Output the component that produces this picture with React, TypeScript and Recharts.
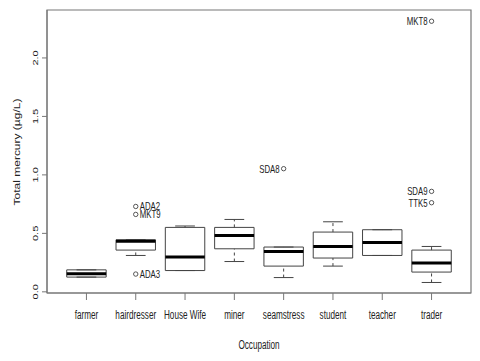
import {
  ComposedChart,
  XAxis,
  YAxis,
  Scatter,
  ReferenceArea,
  ReferenceLine,
} from "recharts";

const categories = [
  "farmer",
  "hairdresser",
  "House Wife",
  "miner",
  "seamstress",
  "student",
  "teacher",
  "trader",
];
const whiskerLow = [0.126, 0.311, 0.182, 0.259, 0.122, 0.22, 0.311, 0.08];
const q1 = [0.126, 0.357, 0.182, 0.368, 0.22, 0.289, 0.311, 0.169];
const median = [0.154, 0.432, 0.297, 0.482, 0.345, 0.388, 0.422, 0.246];
const q3 = [0.188, 0.445, 0.551, 0.551, 0.383, 0.511, 0.531, 0.357];
const whiskerHigh = [0.188, 0.445, 0.563, 0.619, 0.383, 0.599, 0.531, 0.388];

const outlierCat = [2, 2, 2, 5, 8, 8, 8];
const outlierValue = [0.73, 0.662, 0.152, 1.053, 2.314, 0.859, 0.762];
const outlierLabel = ["ADA2", "MKT9", "ADA3", "SDA8", "MKT8", "SDA9", "TTK5"];

const yTicks = [0, 0.5, 1, 1.5, 2];
const xTicks = categories.map((_, i) => i + 1);

const X_DOMAIN: [number, number] = [0.2, 8.8];
const Y_DOMAIN: [number, number] = [-0.01, 2.41];
const SQUASH = 0.68;
const TEXT = "#222";
const FRAME = "#777";
const BOX = "#444";

const outliers = outlierValue.map((v, i) => ({
  x: outlierCat[i],
  y: v,
  label: outlierLabel[i],
  right: outlierCat[i] === 2,
}));

function XTick(props: any) {
  const { x, y, payload } = props;
  return (
    <g transform={`translate(${x},${y}) scale(${SQUASH},1)`}>
      <text x={0} y={17} textAnchor="middle" fontSize={12} fill={TEXT}>
        {categories[payload.value - 1]}
      </text>
    </g>
  );
}

function YTick(props: any) {
  const { y, payload } = props;
  return (
    <g transform={`translate(37.5,${y}) rotate(-90) scale(1,${SQUASH})`}>
      <text x={0} y={0} textAnchor="middle" fontSize={11} fill={TEXT}>
        {Number(payload.value).toFixed(1)}
      </text>
    </g>
  );
}

function OutlierShape(props: any) {
  const { cx, cy, payload } = props;
  const tx = payload.right ? 4 : -4;
  return (
    <g>
      <circle cx={cx} cy={cy} r={2.2} fill="none" stroke={BOX} strokeWidth={0.9} />
      <g transform={`translate(${cx + tx},${cy}) scale(${SQUASH},1)`}>
        <text
          x={0}
          y={4}
          fontSize={11.5}
          fill={TEXT}
          textAnchor={payload.right ? "start" : "end"}
        >
          {payload.label}
        </text>
      </g>
    </g>
  );
}

export default function App() {
  return (
    <div
      style={{
        position: "absolute",
        left: 0,
        top: 0,
        width: 480,
        height: 361,
        background: "#fff",
        fontFamily: "'Liberation Sans', Arial, sans-serif",
      }}
    >
      <ComposedChart
        width={480}
        height={361}
        margin={{ top: 10, right: 9, left: 0, bottom: 0 }}
      >
        <XAxis
          type="number"
          dataKey="x"
          domain={X_DOMAIN}
          ticks={xTicks}
          allowDataOverflow
          height={68}
          tickSize={7}
          tickLine={{ stroke: FRAME }}
          axisLine={{ stroke: FRAME }}
          tick={<XTick />}
          interval={0}
          label={{
            content: () => (
              <g transform={`translate(259,349) scale(${SQUASH},1)`}>
                <text x={0} y={0} textAnchor="middle" fontSize={12} fill={TEXT}>
                  Occupation
                </text>
              </g>
            ),
          }}
        />
        <YAxis
          type="number"
          dataKey="y"
          domain={Y_DOMAIN}
          ticks={yTicks}
          allowDataOverflow
          width={47}
          tickSize={5}
          tickLine={{ stroke: FRAME }}
          axisLine={{ stroke: FRAME }}
          tick={<YTick />}
          interval={0}
          label={{
            content: () => (
              <g transform={`translate(19.5,152) rotate(-90) scale(1,${SQUASH})`}>
                <text x={0} y={0} textAnchor="middle" fontSize={12} fill={TEXT}>
                  Total mercury (µg/L)
                </text>
              </g>
            ),
          }}
        />

        {/* frame around the plot */}
        <ReferenceArea
          x1={X_DOMAIN[0]}
          x2={X_DOMAIN[1]}
          y1={Y_DOMAIN[0]}
          y2={Y_DOMAIN[1]}
          fill="none"
          fillOpacity={0}
          stroke={FRAME}
          strokeWidth={1.2}
          strokeOpacity={1}
        />

        {categories.map((c, i) => {
          const x = i + 1;
          return [
            <ReferenceLine
              key={c + "wl"}
              segment={[
                { x, y: whiskerLow[i] },
                { x, y: q1[i] },
              ]}
              stroke={BOX}
              strokeDasharray="3 3"
            />,
            <ReferenceLine
              key={c + "wh"}
              segment={[
                { x, y: q3[i] },
                { x, y: whiskerHigh[i] },
              ]}
              stroke={BOX}
              strokeDasharray="3 3"
            />,
            <ReferenceLine
              key={c + "cl"}
              segment={[
                { x: x - 0.2, y: whiskerLow[i] },
                { x: x + 0.2, y: whiskerLow[i] },
              ]}
              stroke={BOX}
            />,
            <ReferenceLine
              key={c + "ch"}
              segment={[
                { x: x - 0.2, y: whiskerHigh[i] },
                { x: x + 0.2, y: whiskerHigh[i] },
              ]}
              stroke={BOX}
            />,
            <ReferenceArea
              key={c + "box"}
              x1={x - 0.4}
              x2={x + 0.4}
              y1={q1[i]}
              y2={q3[i]}
              fill="#fff"
              fillOpacity={1}
              stroke={BOX}
              strokeOpacity={1}
            />,
            <ReferenceLine
              key={c + "med"}
              segment={[
                { x: x - 0.4, y: median[i] },
                { x: x + 0.4, y: median[i] },
              ]}
              stroke="#000"
              strokeWidth={3}
            />,
          ];
        })}

        <Scatter
          data={outliers}
          dataKey="y"
          shape={<OutlierShape />}
          isAnimationActive={false}
        />
      </ComposedChart>
    </div>
  );
}
